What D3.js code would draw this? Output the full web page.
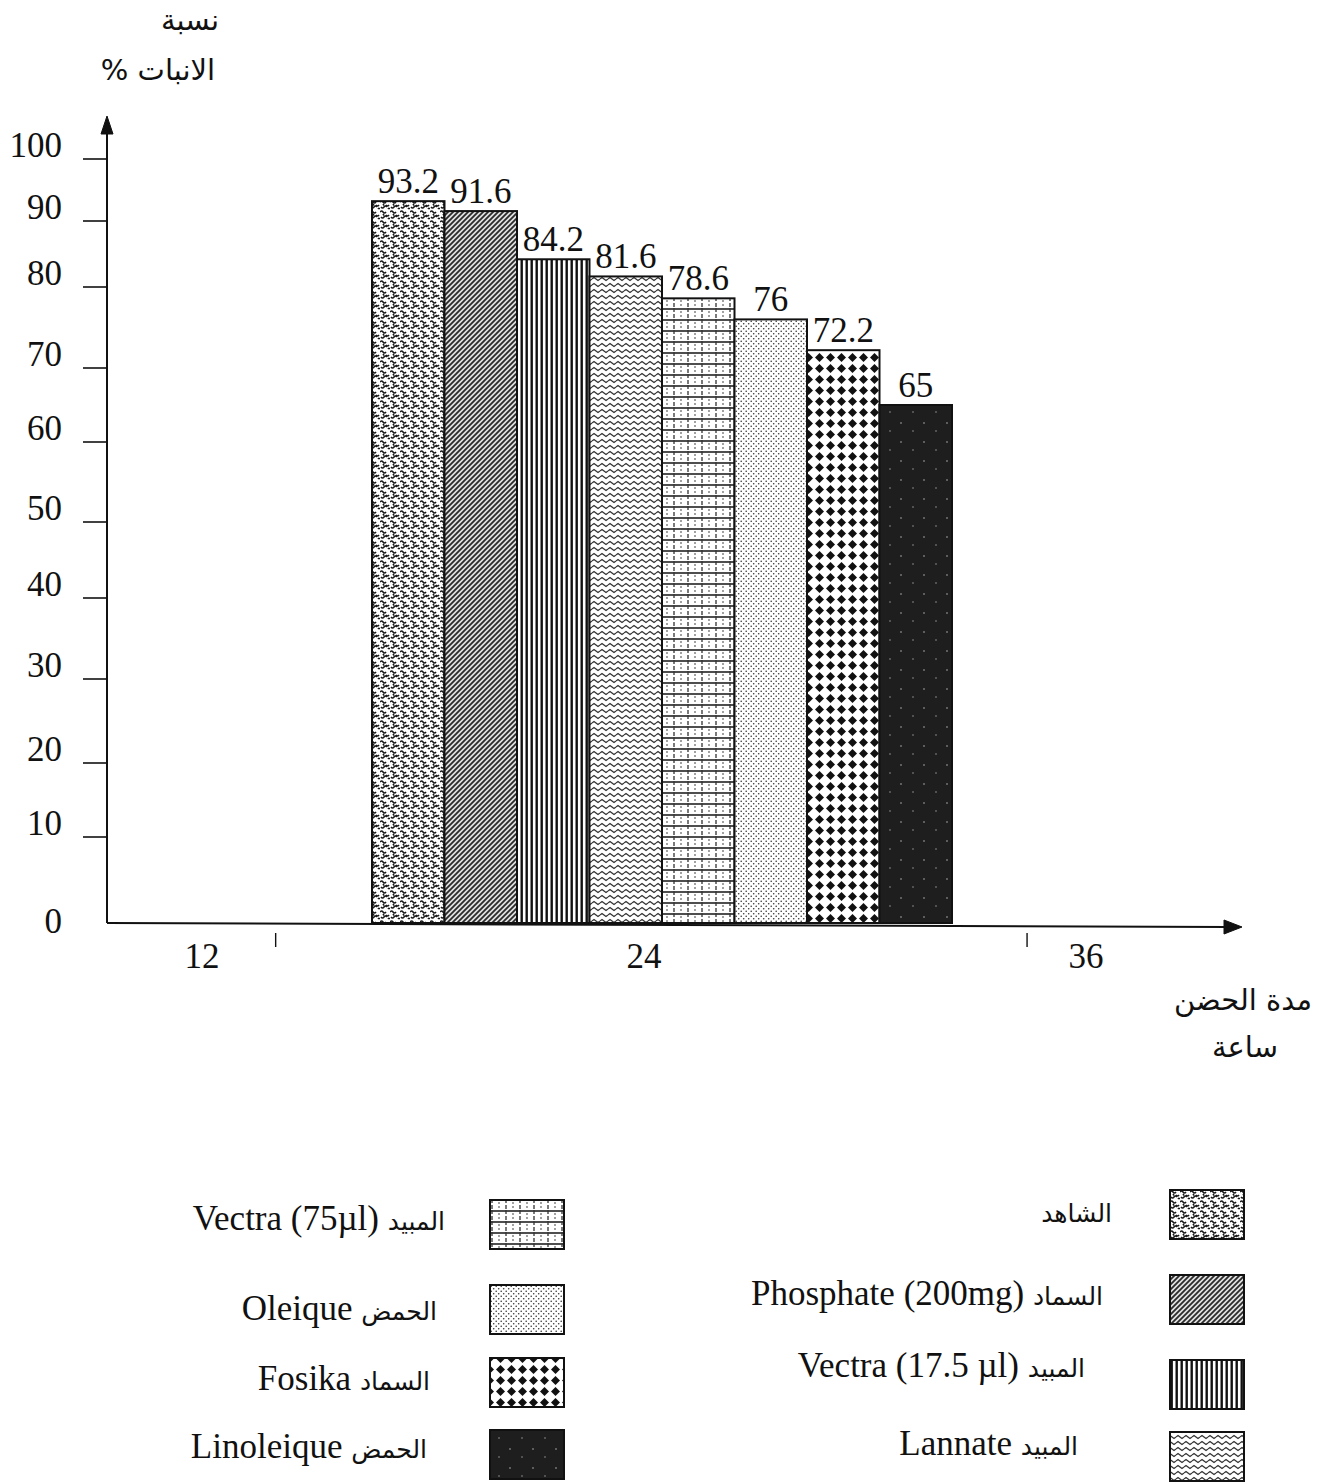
<!DOCTYPE html>
<html>
<head>
<meta charset="utf-8">
<script src="https://cdn.jsdelivr.net/npm/d3@7"></script>
<style>
	body { margin: 0; background: #fff; }
	svg { font-family: "Liberation Serif", "DejaVu Sans", serif; }
</style>
</head>
<body>
<div id="chart"></div>
<script>
// hours of incubation on the x axis
const hours = [12, 24, 36];
// the treatments, all measured at 24h
const treatments = ["control", "phosphate", "vectra17", "lannate", "vectra75", "oleique", "fosika", "linoleique"];
const germination = [93.2, 91.6, 84.2, 81.6, 78.6, 76, 72.2, 65];
const yTicks = [0, 10, 20, 30, 40, 50, 60, 70, 80, 90, 100];
const legendLatin = ["", "Phosphate (200mg)", "Vectra (17.5 µl)", "Lannate", "Vectra (75µl)", "Oleique", "Fosika", "Linoleique"];
const legendArabic = ["الشاهد", "السماد", "المبيد", "المبيد", "المبيد", "الحمض", "السماد", "الحمض"];

let width = 1327;
let height = 1484;

let svg = d3.select("#chart").append("svg").attr("width", width).attr("height", height);
let defs = svg.append("defs");

/**
 * Fill patterns
 */
function pattern(id, w, h, bg) {
	let p = defs.append("pattern").attr("id", id).attr("patternUnits", "userSpaceOnUse").attr("width", w).attr("height", h);
	p.append("rect").attr("width", w).attr("height", h).attr("fill", bg || "#fff");
	return p;
}

// wormy stipple
let p1 = pattern("p-control", 10, 10);
p1.append("path").attr("d", "M0 2 q1.5 -2 3 0 t3 0 M6 5 q1.5 2 3 0 M1 7 q1.5 2 3 0 t3 0 M8 9 q1 -1.5 2 0 M3 4 l1 1.5")
	.attr("fill", "none").attr("stroke", "#1a1a1a").attr("stroke-width", 1.5);

// diagonal hatch
let p2 = pattern("p-phosphate", 5, 5, "#e0e0e0");
p2.append("path").attr("d", "M-1 6 L6 -1 M-1 1 L1 -1 M4 6 L6 4").attr("stroke", "#2a2a2a").attr("stroke-width", 1.8);

// vertical lines
let p3 = pattern("p-vectra17", 5, 10);
p3.append("rect").attr("x", 0.5).attr("width", 2.4).attr("height", 10).attr("fill", "#111");

// zigzag waves
let p4 = pattern("p-lannate", 8, 6);
p4.append("path").attr("d", "M0 3 L2 1.5 L4 3 L6 4.5 L8 3").attr("fill", "none").attr("stroke", "#333").attr("stroke-width", 1.3);

// grid with dashed verticals
let p5 = pattern("p-vectra75", 14, 11);
p5.append("line").attr("x1", 0).attr("x2", 14).attr("y1", 1).attr("y2", 1).attr("stroke", "#222").attr("stroke-width", 1.6);
p5.append("line").attr("x1", 2).attr("x2", 2).attr("y1", 0).attr("y2", 11).attr("stroke", "#333").attr("stroke-width", 1.3).attr("stroke-dasharray", "4,2");
p5.append("line").attr("x1", 9).attr("x2", 9).attr("y1", 3).attr("y2", 9).attr("stroke", "#555").attr("stroke-width", 1.1).attr("stroke-dasharray", "2,2");

// fine dots
let p6 = pattern("p-oleique", 5, 5);
p6.append("circle").attr("cx", 1.2).attr("cy", 1.2).attr("r", 0.8).attr("fill", "#333");
p6.append("circle").attr("cx", 3.7).attr("cy", 3.7).attr("r", 0.8).attr("fill", "#333");

// diamonds
let p7 = pattern("p-fosika", 11, 11);
p7.append("path").attr("d", "M5.5 1 L10 5.5 L5.5 10 L1 5.5 Z").attr("fill", "#111");

// black with sparse white specks
let p8 = pattern("p-linoleique", 23, 19, "#1e1e1e");
p8.append("circle").attr("cx", 4).attr("cy", 5).attr("r", 0.7).attr("fill", "#ccc");
p8.append("circle").attr("cx", 16).attr("cy", 13).attr("r", 0.7).attr("fill", "#aaa");

/**
 * Scales
 */
let yScale = d3.scaleLinear().domain(yTicks).range([923, 837, 763, 679, 598, 522, 442, 368, 287, 221, 159]);
let xScale = d3.scaleLinear().domain([12, 36]).range([202, 1086]);
let x0 = xScale(24) - 272;
let barScale = d3.scaleBand().domain(treatments).range([x0, x0 + 580]);

let axisX = 107;
let baseY = yScale(0);

/**
 * Bars
 */
let bars = svg.append("g").attr("class", "bars");
bars.selectAll("rect").data(treatments).enter().append("rect")
	.attr("x", d => barScale(d))
	.attr("y", (d, i) => yScale(germination[i]))
	.attr("width", barScale.bandwidth())
	.attr("height", (d, i) => baseY - yScale(germination[i]))
	.attr("fill", d => "url(#p-" + d + ")")
	.attr("stroke", "#111")
	.attr("stroke-width", 2);

bars.selectAll("text").data(treatments).enter().append("text")
	.attr("x", d => barScale(d) + barScale.bandwidth() / 2)
	.attr("y", (d, i) => yScale(germination[i]) - 8)
	.attr("text-anchor", "middle")
	.attr("font-size", 35)
	.attr("fill", "#111")
	.text((d, i) => germination[i]);

/**
 * Axes
 */
let axes = svg.append("g").attr("class", "axes").attr("stroke", "#111");
axes.append("line").attr("x1", axisX).attr("x2", axisX).attr("y1", baseY).attr("y2", 128).attr("stroke-width", 2);
axes.append("path").attr("d", `M${axisX} 116 L${axisX - 6} 134 L${axisX + 6} 134 Z`).attr("fill", "#111");
axes.append("line").attr("x1", axisX).attr("x2", 1228).attr("y1", baseY).attr("y2", baseY + 4).attr("stroke-width", 2);
axes.append("path").attr("d", `M1242 ${baseY + 4} L1224 ${baseY - 3} L1224 ${baseY + 11} Z`).attr("fill", "#111");

axes.selectAll(".ytick").data(yTicks.filter(d => d > 0)).enter().append("line")
	.attr("class", "ytick")
	.attr("x1", axisX - 24).attr("x2", axisX)
	.attr("y1", d => yScale(d)).attr("y2", d => yScale(d))
	.attr("stroke-width", 1.6);

svg.append("g").selectAll("text").data(yTicks).enter().append("text")
	.attr("x", 62)
	.attr("y", d => d === 0 ? yScale(d) + 10 : yScale(d) - 2)
	.attr("text-anchor", "end")
	.attr("font-size", 35)
	.attr("fill", "#111")
	.text(d => d);

// separators on the x axis
axes.selectAll(".xtick").data([14, 34.4]).enter().append("line")
	.attr("class", "xtick")
	.attr("x1", d => xScale(d)).attr("x2", d => xScale(d))
	.attr("y1", baseY + 10).attr("y2", baseY + 24)
	.attr("stroke-width", 1.4);

svg.append("g").selectAll("text").data(hours).enter().append("text")
	.attr("x", d => xScale(d))
	.attr("y", 968)
	.attr("text-anchor", "middle")
	.attr("font-size", 35)
	.attr("fill", "#111")
	.text(d => d);

/**
 * Axis titles
 */
let titles = svg.append("g").attr("font-family", "DejaVu Sans, sans-serif").attr("font-size", 29).attr("fill", "#111").attr("text-anchor", "middle");
titles.append("text").attr("x", 190).attr("y", 30).text("نسبة");
titles.append("text").attr("x", 158).attr("y", 80).text("% الانبات");
titles.append("text").attr("x", 1243).attr("y", 1010).text("مدة الحضن");
titles.append("text").attr("x", 1245).attr("y", 1057).text("ساعة");

/**
 * Legend
 */
let legendPos = [
	{ bx: 1170, by: 1190, tx: 1112, ty: 1222 },
	{ bx: 1170, by: 1275, tx: 1103, ty: 1305 },
	{ bx: 1170, by: 1360, tx: 1085, ty: 1377 },
	{ bx: 1170, by: 1432, tx: 1078, ty: 1455 },
	{ bx: 490, by: 1200, tx: 445, ty: 1230 },
	{ bx: 490, by: 1285, tx: 437, ty: 1320 },
	{ bx: 490, by: 1358, tx: 430, ty: 1390 },
	{ bx: 490, by: 1430, tx: 427, ty: 1458 }
];

let legend = svg.append("g").attr("class", "legend");
let items = legend.selectAll("g").data(treatments).enter().append("g");
items.append("rect")
	.attr("x", (d, i) => legendPos[i].bx)
	.attr("y", (d, i) => legendPos[i].by)
	.attr("width", 74)
	.attr("height", 49)
	.attr("fill", d => "url(#p-" + d + ")")
	.attr("stroke", "#111")
	.attr("stroke-width", 2);
let labels = items.append("text")
	.attr("x", (d, i) => legendPos[i].tx)
	.attr("y", (d, i) => legendPos[i].ty)
	.attr("text-anchor", "end")
	.attr("direction", "ltr")
	.attr("fill", "#111");
labels.append("tspan")
	.attr("font-size", 35)
	.text((d, i) => legendLatin[i] ? legendLatin[i] + "  " : "");
labels.append("tspan")
	.attr("font-family", "DejaVu Sans, sans-serif")
	.attr("font-size", 25)
	.text((d, i) => legendArabic[i]);
</script>
</body>
</html>
